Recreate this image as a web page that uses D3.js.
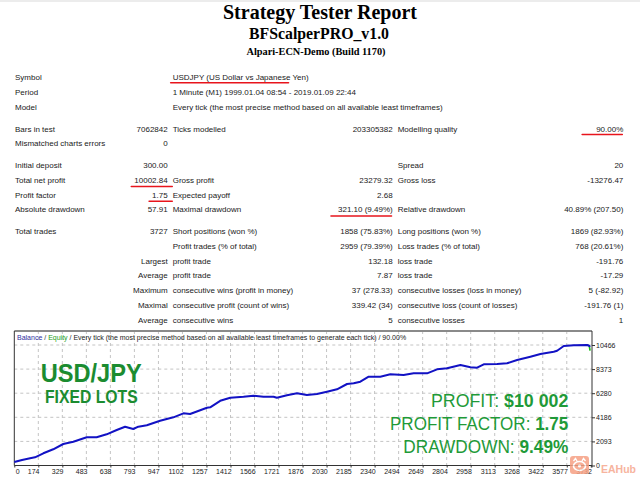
<!DOCTYPE html>
<html><head><meta charset="utf-8">
<script src="https://cdn.jsdelivr.net/npm/d3@7"></script>
<style>body{margin:0;background:#fff}svg{display:block}</style>
</head><body>
<script>
// ---------- DATA ----------
const titleMain = "Strategy Tester Report";
const titleEA = "BFScalperPRO_v1.0";
const titleServer = "Alpari-ECN-Demo (Build 1170)";

const col1Labels = ["Symbol","Period","Model","Bars in test","Mismatched charts errors","Initial deposit","Total net profit","Profit factor","Absolute drawdown","Total trades","","","","","",""];
const col2Values = ["","","","7062842","0","300.00","10002.84","1.75","57.91","3727","","Largest","Average","Maximum","Maximal","Average"];
const col3Labels = ["USDJPY (US Dollar vs Japanese Yen)","1 Minute (M1) 1999.01.04 08:54 - 2019.01.09 22:44","Every tick (the most precise method based on all available least timeframes)","Ticks modelled","","","Gross profit","Expected payoff","Maximal drawdown","Short positions (won %)","Profit trades (% of total)","profit trade","profit trade","consecutive wins (profit in money)","consecutive profit (count of wins)","consecutive wins"];
const col4Values = ["","","","203305382","","","23279.32","2.68","321.10 (9.49%)","1858 (75.83%)","2959 (79.39%)","132.18","7.87","37 (278.33)","339.42 (34)","5"];
const col5Labels = ["","","","Modelling quality","","Spread","Gross loss","","Relative drawdown","Long positions (won %)","Loss trades (% of total)","loss trade","loss trade","consecutive losses (loss in money)","consecutive loss (count of losses)","consecutive losses"];
const col6Values = ["","","","90.00%","","20","-13276.47","","40.89% (207.50)","1869 (82.93%)","768 (20.61%)","-191.76","-17.29","5 (-82.92)","-191.76 (1)","1"];
const rowGroup = [0,0,0,1,1,2,2,2,2,3,3,3,3,3,3,3];
// highlighted cells: [row, column]
const highlights = [[0,2],[6,1],[7,1],[8,3],[3,5]];

const chartTitleParts = ["Balance"," / ","Equity"," / Every tick (the most precise method based on all available least timeframes to generate each tick) / 90.00%"];
const xTickLabels = ["0","174","329","483","638","793","947","1102","1257","1412","1566","1721","1876","2030","2185","2340","2494","2649","2804","2958","3113","3268","3422","3577","3732"];
const yTickValues = [0,2093,4186,6280,8373,10466];
const xMax = 3732;

const tradeIdx = [0,50,102,134,188,252,317,382,469,533,598,663,717,770,803,858,944,1030,1095,1138,1247,1268,1333,1398,1484,1548,1613,1678,1700,1765,1830,1894,1959,2024,2089,2154,2197,2240,2294,2369,2434,2520,2585,2629,2672,2737,2802,2888,2953,2996,3039,3126,3190,3255,3341,3406,3492,3514,3557,3622,3708,3722,3727];
const balance = [300,480,625,712,1060,1407,1867,2067,2449,2449,2710,3083,3370,3170,3370,3491,3891,4186,4533,4473,5020,5055,5620,5889,5975,6062,5975,5975,5880,6097,6271,6123,6210,6410,6618,7078,7139,7278,7712,7712,7920,7860,8007,8007,8007,8355,8442,8728,8529,8494,8789,8815,8876,9163,9449,9684,9884,9970,10378,10440,10466,10400,10303];
const equityIdx = [3708,3722,3727];
const equity = [10466,10400,9970];

const overlayLeft = ["USD/JPY","FIXED LOTS"];
const overlayRight = [["PROFIT: ","$10 002"],["PROFIT FACTOR: ","1.75"],["DRAWDOWN: ","9.49%"]];

// ---------- DRAW ----------
const W = 640, H = 480;
const svg = d3.select("body").append("svg").attr("width", W).attr("height", H);
svg.append("rect").attr("width", W).attr("height", H).attr("fill", "#fff");
svg.append("rect").attr("width", W).attr("height", 2).attr("fill", "#ececec");

const serif = "'Liberation Serif','Times New Roman',serif";
const sans = "'Liberation Sans',Arial,sans-serif";

svg.append("text").attr("x", 320).attr("y", 19).attr("text-anchor","middle")
  .attr("font-family", serif).attr("font-weight","bold").attr("font-size", 20).text(titleMain);
svg.append("text").attr("x", 319).attr("y", 38.5).attr("text-anchor","middle")
  .attr("font-family", serif).attr("font-weight","bold").attr("font-size", 15.8).text(titleEA);
svg.append("text").attr("x", 316).attr("y", 54.5).attr("text-anchor","middle")
  .attr("font-family", serif).attr("font-weight","bold").attr("font-size", 10.3).text(titleServer);

// table
const colX = [15, 167.7, 172.7, 392.7, 397.7, 623.3];
const colAnchor = ["start","end","start","end","start","end"];
const cols = [col1Labels, col2Values, col3Labels, col4Values, col5Labels, col6Values];
const rowY = i => 77.3 + i*14.72 + rowGroup[i]*7.2 + 2.9;
const tbl = svg.append("g").attr("font-family", sans).attr("font-size", 8).attr("fill", "#1a1a1a");
const cellNodes = {};
cols.forEach((col, c) => {
  col.forEach((t, r) => {
    if (!t) return;
    const n = tbl.append("text").attr("x", colX[c]).attr("y", rowY(r))
      .attr("text-anchor", colAnchor[c]).text(t);
    cellNodes[r + "_" + c] = n;
  });
});
// red underline highlights
highlights.forEach(([r, c]) => {
  const n = cellNodes[r + "_" + c];
  if (!n) return;
  const bb = n.node().getBBox();
  let x0 = bb.x - 3, x1 = bb.x + bb.width + 4, dy = 3.6;
  if (r === 0) { x0 = bb.x - 2; x1 = bb.x + bb.width * 0.85; dy = 2.6; }
  if (c === 5) { x0 = bb.x - 14; x1 = bb.x + bb.width - 1; dy = 3; }
  if (c === 3) { x0 = bb.x - 7; x1 = bb.x + bb.width - 1.5; }
  svg.append("line").attr("x1", x0).attr("x2", x1)
    .attr("y1", rowY(r) + dy).attr("y2", rowY(r) + dy)
    .attr("stroke", "#e8141c").attr("stroke-width", 1.6).attr("stroke-linecap","round");
});

// chart
const cLeft = 14.3, cRight = 592, cTop = 331, cBottom = 465.5;
const x = d3.scaleLinear().domain([0, xMax]).range([cLeft, 590.8]);
const y = d3.scaleLinear().domain([0, 10466]).range([cBottom, 345]);
const chart = svg.append("g");

// grid
const xTickVals = xTickLabels.map((_, i) => i * xMax / (xTickLabels.length - 1));
chart.append("g").selectAll("line").data(xTickVals.slice(1, -1)).join("line")
  .attr("x1", d => x(d)).attr("x2", d => x(d)).attr("y1", cTop).attr("y2", cBottom)
  .attr("stroke", "#c4c4c4").attr("stroke-width", 1).attr("stroke-dasharray", "3,3");
chart.append("g").selectAll("line").data(yTickValues.slice(1)).join("line")
  .attr("x1", cLeft).attr("x2", cRight).attr("y1", d => y(d)).attr("y2", d => y(d))
  .attr("stroke", "#c4c4c4").attr("stroke-width", 1).attr("stroke-dasharray", "3,3");

// frame
chart.append("line").attr("x1", cLeft).attr("x2", cRight).attr("y1", cTop).attr("y2", cTop)
  .attr("stroke", "#8a8a8a").attr("stroke-width", 2);
chart.append("line").attr("x1", cLeft).attr("x2", cLeft).attr("y1", cTop).attr("y2", cBottom)
  .attr("stroke", "#333").attr("stroke-width", 1);
chart.append("line").attr("x1", cRight).attr("x2", cRight).attr("y1", cTop).attr("y2", cBottom + 2)
  .attr("stroke", "#333").attr("stroke-width", 1);
chart.append("line").attr("x1", cLeft).attr("x2", cRight).attr("y1", cBottom).attr("y2", cBottom)
  .attr("stroke", "#333").attr("stroke-width", 1);

// axes
const yAxis = d3.axisRight(y).tickValues(yTickValues).tickSize(3).tickPadding(1).tickFormat(d3.format("d"));
const ya = chart.append("g").attr("transform", `translate(${cRight},0)`).call(yAxis);
ya.select(".domain").remove();
ya.selectAll("text").attr("font-family", sans).attr("font-size", 7).attr("fill", "#222");
ya.selectAll("line").attr("stroke", "#333");

const xAxis = d3.axisBottom(x).tickValues(xTickVals).tickSize(2).tickPadding(2)
  .tickFormat((d, i) => xTickLabels[i]);
const xa = chart.append("g").attr("transform", `translate(0,${cBottom})`).call(xAxis);
xa.select(".domain").remove();
xa.selectAll("line").attr("stroke", "#333");
xa.selectAll("text").attr("font-family", sans).attr("font-size", 7).attr("fill", "#222")
  .attr("text-anchor", (d, i) => i === 0 ? "start" : "end")
  .attr("dx", (d, i) => i === 0 ? 1 : 0.6);

// chart title
const ct = chart.append("text").attr("x", 17).attr("y", 339.8).attr("font-family", sans).attr("font-size", 7);
const ctColors = ["#3030a0", "#333", "#22a022", "#222"];
chartTitleParts.forEach((p, i) => ct.append("tspan").attr("fill", ctColors[i]).text(p));

// overlay texts
const green1 = "#1b8c30", green2 = "#1f9a38";
const ovL = chart.append("g").attr("font-family", sans).attr("font-weight", "bold").attr("fill", green1);
ovL.append("text").attr("x", 40.7).attr("y", 381.7).attr("font-size", 26)
  .attr("textLength", 101).attr("lengthAdjust", "spacingAndGlyphs").text(overlayLeft[0]);
ovL.append("text").attr("x", 45).attr("y", 402.7).attr("font-size", 17.5)
  .attr("textLength", 92.7).attr("lengthAdjust", "spacingAndGlyphs").text(overlayLeft[1]);

const rightLens = [137.3, 178.3, 165];
const rightBase = [407, 430.2, 452.7];
overlayRight.forEach((parts, i) => {
  const t = chart.append("text").attr("x", 568.3 - rightLens[i]).attr("y", rightBase[i])
    .attr("font-family", sans).attr("font-size", 17.5).attr("fill", green2)
    .attr("textLength", rightLens[i]).attr("lengthAdjust", "spacingAndGlyphs");
  t.append("tspan").text(parts[0]);
  t.append("tspan").attr("font-weight", "bold").text(parts[1]);
});

// curves
const line = d3.line().x(d => x(d[0])).y(d => y(d[1]));
chart.append("path").datum(equityIdx.map((d, i) => [d, equity[i]]))
  .attr("d", line).attr("fill", "none").attr("stroke", "#10c010").attr("stroke-width", 1.6);
chart.append("path").datum(tradeIdx.map((d, i) => [d, balance[i]]))
  .attr("d", line).attr("fill", "none").attr("stroke", "#1212c4").attr("stroke-width", 2)
  .attr("stroke-linejoin", "round");

// watermark
const wm = svg.append("g").attr("opacity", 0.85);
wm.append("rect").attr("x", 570).attr("y", 456).attr("width", 19).attr("height", 18).attr("rx", 3)
  .attr("fill", "#f6a184");
wm.append("ellipse").attr("cx", 579.5).attr("cy", 466).attr("rx", 6).attr("ry", 4.5).attr("fill", "none")
  .attr("stroke", "#fff").attr("stroke-width", 1.6);
wm.append("circle").attr("cx", 579.5).attr("cy", 466).attr("r", 1.6).attr("fill", "#fff");
wm.append("path").attr("d", "M573.5,461 l2,-2.5 l1.5,2.5 M585.5,461 l-2,-2.5 l-1.5,2.5")
  .attr("fill", "none").attr("stroke", "#fff").attr("stroke-width", 1.3);
wm.append("text").attr("x", 601).attr("y", 472.5).attr("font-family", sans).attr("font-weight", "bold")
  .attr("font-size", 11).attr("fill", "#f6a88e").attr("textLength", 35)
  .attr("lengthAdjust", "spacingAndGlyphs").text("EAHub");
</script>
</body></html>
